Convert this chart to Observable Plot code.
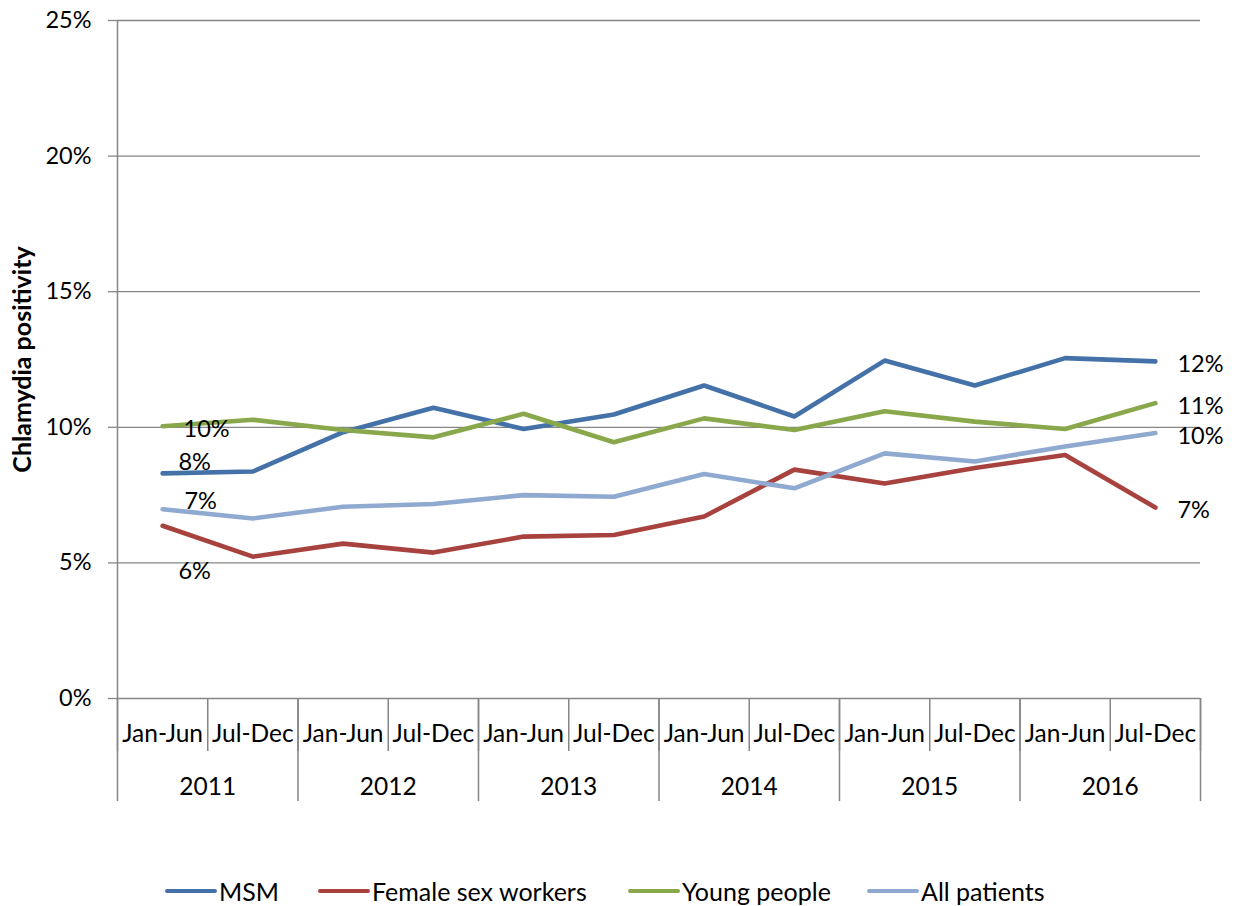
<!DOCTYPE html>
<html>
<head>
<meta charset="utf-8">
<script src="https://cdn.jsdelivr.net/npm/d3@7"></script>
<script src="https://cdn.jsdelivr.net/npm/@observablehq/plot@0.6"></script>
<style>
  body { margin: 0; background: #fff; font-family: Lato, "Noto Sans", sans-serif; }
  #wrap { position: relative; width: 1234px; height: 906px; }
  #legend { position: absolute; left: 0; top: 876px; width: 1234px; height: 30px; }
  .item { position: absolute; top: 0; height: 30px; display: flex; align-items: center; font-size: 25px; color: #000; }
  .sw { width: 52px; height: 4.5px; border-radius: 2px; margin-right: 2px; }
</style>
</head>
<body>
<div id="wrap"><div id="chart"></div><div id="legend"></div></div>
<script>
const halves = ["Jan-Jun", "Jul-Dec"];
const years = ["2011", "2012", "2013", "2014", "2015", "2016"];
const seriesNames = ["MSM", "Female sex workers", "Young people", "All patients"];
const colors = ["#4472A8", "#A8423F", "#89A84B", "#8FA9D0"];
const msm = [8.30, 8.37, 9.82, 10.72, 9.94, 10.47, 11.54, 10.40, 12.46, 11.54, 12.55, 12.43];
const fsw = [6.37, 5.23, 5.71, 5.38, 5.97, 6.03, 6.71, 8.44, 7.93, 8.50, 8.98, 7.04];
const young = [10.04, 10.28, 9.90, 9.63, 10.50, 9.45, 10.33, 9.90, 10.59, 10.21, 9.94, 10.89];
const allPatients = [6.98, 6.64, 7.07, 7.17, 7.50, 7.44, 8.28, 7.75, 9.04, 8.74, 9.29, 9.79];
const yTicks = [0, 5, 10, 15, 20, 25];

const valuesBySeries = [msm, fsw, young, allPatients];
const data = [];
valuesBySeries.forEach((vals, s) => vals.forEach((v, i) => data.push({series: seriesNames[s], i, v})));
const idx = d3.range(years.length * halves.length);
const halfBounds = d3.range(-0.5, idx.length, 1);
const yearBounds = d3.range(-0.5, idx.length, 2);
const yearCenters = d3.range(0.5, idx.length, 2);

const firstPts = seriesNames.map(s => data.find(d => d.series === s && d.i === 0));
const lastPts = seriesNames.map(s => data.find(d => d.series === s && d.i === idx.length - 1));
const fmt = d => Math.round(d.v) + "%";
// per-series label offsets at start (as in the source chart)
const startOffsets = {"MSM": [32, -11], "Female sex workers": [32, 46], "Young people": [44, 3], "All patients": [38, -8]};

const gray = "#868686";
const font = "Lato, 'Noto Sans', sans-serif";

const plot = Plot.plot({
  width: 1234,
  height: 840,
  marginLeft: 117,
  marginRight: 34,
  marginTop: 20,
  marginBottom: 142,
  style: {fontFamily: font, fontSize: "23px", color: "#000", background: "#fff", overflow: "visible"},
  x: {type: "linear", domain: [-0.5, idx.length - 0.5]},
  y: {domain: [0, 25]},
  color: {domain: seriesNames, range: colors},
  marks: [
    Plot.gridY(yTicks, {stroke: gray, strokeOpacity: 1, strokeWidth: 1.3, x1: -0.5, x2: idx.length - 0.5}),
    Plot.axisY(yTicks, {tickFormat: d => d + "%", tickSize: 9, stroke: gray, strokeWidth: 1.3, tickPadding: 17, fontSize: 23.5, label: null}),
    Plot.ruleX([-0.5], {y1: 0, y2: 25, stroke: gray, strokeWidth: 1.5}),
    Plot.axisX(halfBounds, {tickSize: 53, stroke: gray, strokeWidth: 1.5, tickFormat: () => "", label: null}),
    Plot.axisX(yearBounds, {tickSize: 103, stroke: gray, strokeWidth: 1.5, tickFormat: () => "", label: null}),
    Plot.axisX(idx, {tickSize: 0, tickPadding: 26, tickFormat: i => halves[i % 2], fontSize: 24.5, label: null}),
    Plot.axisX(yearCenters, {tickSize: 0, tickPadding: 79, tickFormat: c => years[Math.floor(c / 2)], fontSize: 24.5, label: null}),
    Plot.line(data, {x: "i", y: "v", z: "series", stroke: "series", strokeWidth: 4.6, strokeLinecap: "round", strokeLinejoin: "round"}),
    ...firstPts.map(d => Plot.text([d], {x: "i", y: "v", text: fmt, dx: startOffsets[d.series][0], dy: startOffsets[d.series][1], fontSize: 23.5, fill: "#000"})),
    Plot.text(lastPts, {x: "i", y: "v", text: fmt, dx: 22, dy: 3, textAnchor: "start", fontSize: 23.5, fill: "#000"}),
    Plot.text(["Chlamydia positivity"], {frameAnchor: "left", textAnchor: "middle", rotate: -90, dx: -95, fontSize: 25, fontWeight: "bold", fill: "#000"})
  ]
});
document.getElementById("chart").appendChild(plot);

const legend = document.getElementById("legend");
const lefts = [165, 318, 628, 867];
seriesNames.forEach((s, k) => {
  const it = document.createElement("div");
  it.className = "item";
  it.style.left = lefts[k] + "px";
  it.innerHTML = `<span class="sw" style="background:${colors[k]}"></span><span>${s}</span>`;
  legend.appendChild(it);
});
</script>
</body>
</html>
